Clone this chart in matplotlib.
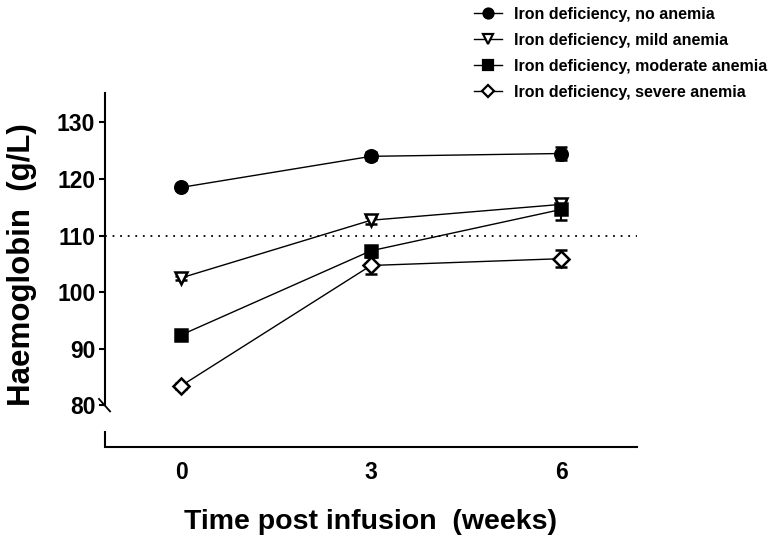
import matplotlib
matplotlib.use("Agg")
import matplotlib.pyplot as plt
from matplotlib.lines import Line2D

plt.rcParams["font.family"] = ["Liberation Sans", "DejaVu Sans"]
plt.rcParams["font.weight"] = "bold"

# Haemoglobin (g/L) by weeks after infusion
weeks = [0, 3, 6]
no_anemia = [118.5, 124.0, 124.5]
no_anemia_err = [0.4, 0.7, 1.2]
mild = [102.5, 112.7, 115.5]
mild_err = [0.4, 0.6, 0.8]
moderate = [92.4, 107.3, 114.6]
moderate_err = [0.4, 0.6, 1.9]
severe = [83.4, 104.7, 105.9]
severe_err = [0.5, 1.5, 1.5]

labels = ["Iron deficiency, no anemia", "Iron deficiency, mild anemia",
          "Iron deficiency, moderate anemia", "Iron deficiency, severe anemia"]
yticks = [80, 90, 100, 110, 120, 130]
xticks = [0, 3, 6]
threshold = 110

W, H = 774, 537
fig = plt.figure(figsize=(W / 100, H / 100), dpi=100)
ax = fig.add_axes([105 / W, 1 - 447 / H, (637 - 105) / W, (447 - 93) / H])

styles = [
    dict(marker="o", mfc="black", ms=9),
    dict(marker="v", mfc="white", ms=9),
    dict(marker="s", mfc="black", ms=8.5),
    dict(marker="D", mfc="white", ms=7.8),
]
series = [(no_anemia, no_anemia_err), (mild, mild_err),
          (moderate, moderate_err), (severe, severe_err)]

handles = []
for (vals, errs), st, lab in zip(series, styles, labels):
    ax.errorbar(weeks, vals, yerr=errs, color="black", lw=1.0, elinewidth=1.5,
                capsize=4.5, capthick=2, mec="black", mew=1.8, zorder=3, **st)
    hst = dict(st)
    hst["ms"] = st["ms"] * 0.8
    handles.append(Line2D([0], [0], color="black", lw=1.0, mec="black", mew=1.6, **hst))

ax.axhline(threshold, color="black", lw=1.3, ls=(0, (1, 3.2)), zorder=1)

ax.set_xlim(-1.2, 7.2)
ax.set_ylim(72.6, 135.2)
ax.set_yticks(yticks)
ax.set_xticks(xticks)
ax.tick_params(axis="y", length=4, width=1.5, labelsize=16.5, pad=3)
ax.tick_params(axis="x", length=0, labelsize=16.5, pad=10)

for s in ["top", "right"]:
    ax.spines[s].set_visible(False)
ax.spines["left"].set_linewidth(1.5)
ax.spines["bottom"].set_linewidth(1.5)
ax.spines["left"].set_bounds(80, 135.2)

# broken-axis marks
ax.plot([-1.2, -1.2], [72.6, 75.4], color="black", lw=1.5, clip_on=False,
        solid_capstyle="butt")
ax.plot([-1.295, -1.12], [81.1, 78.9], color="black", lw=1.3, clip_on=False)

ax.set_xlabel("Time post infusion  (weeks)", fontsize=20.5, fontweight="bold", labelpad=18)
ax.set_ylabel("Haemoglobin  (g/L)", fontsize=22.5, fontweight="bold", labelpad=14)
ax.yaxis.label.set_y(0.514)

fig.legend(handles, labels, loc="upper left", bbox_to_anchor=(466 / W, 1 + 1 / H),
           frameon=False, borderpad=0, handlelength=1.75,
           handletextpad=0.75, labelspacing=0.69, prop={"weight": "bold", "size": 11.5})

fig.savefig("out.png", dpi=100, facecolor="white")
